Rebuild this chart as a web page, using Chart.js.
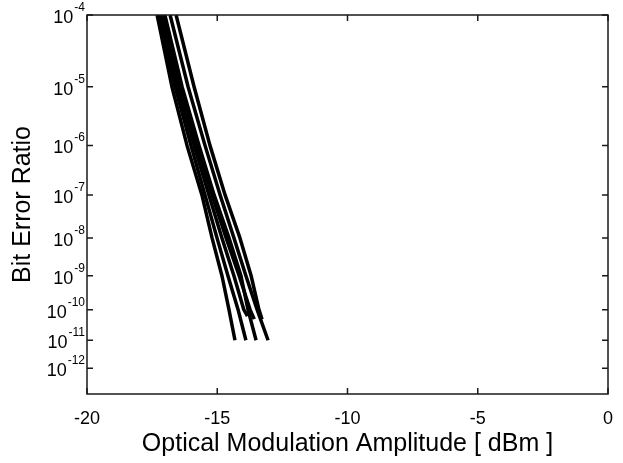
<!DOCTYPE html>
<html>
<head>
<meta charset="utf-8">
<script src="https://cdn.jsdelivr.net/npm/chart.js@4.4.1/dist/chart.umd.min.js"></script>
<style>
html, body { margin: 0; padding: 0; background: #fff; }
#wrap { width: 623px; height: 463px; }
</style>
</head>
<body>
<div id="wrap"><canvas id="berChart" width="623" height="463"></canvas></div>
<script>
// BER at each measured point (decades), short curves stop a bit above 1e-11
const berFull = [1e-4, 1e-5, 1e-6, 1e-7, 1e-8, 1e-9, 1e-10, 1e-11];
const berStopA = [1e-4, 1e-5, 1e-6, 1e-7, 1e-8, 1e-9, 1e-10, 6.3e-11];
const berStopB = [1e-4, 1e-5, 1e-6, 1e-7, 1e-8, 1e-9, 1e-10, 5.0e-11];

// optical modulation amplitude (dBm) for each lane
const omaLane1 = [-17.31, -16.74, -16.16, -15.59, -15.20, -14.82, -14.55, -14.32];
const omaLane2 = [-17.24, -16.62, -16.01, -15.47, -15.01, -14.59, -14.20, -13.90];
const omaLane3 = [-17.16, -16.51, -15.89, -15.32, -14.82, -14.36, -13.98, -13.84];
const omaLane4 = [-17.08, -16.43, -15.78, -15.20, -14.66, -14.16, -13.74, -13.58];
const omaLane5 = [-17.01, -16.35, -15.70, -15.12, -14.55, -14.09, -13.82, -13.51];
const omaLane6 = [-16.81, -16.12, -15.47, -14.89, -14.36, -13.90, -13.47, -13.05];
const omaLane7 = [-16.58, -15.89, -15.28, -14.70, -14.13, -13.70, -13.40, -13.28];

const yTickExponents = [4, 5, 6, 7, 8, 9, 10, 11, 12];
const xTicks = [-20, -15, -10, -5, 0];

const fam = '"Liberation Sans", Arial, sans-serif';

// BER axis: log10(-log10(BER))
function tf(ber) { return Math.log10(-Math.log10(ber)); }

function curve(oma, ber) {
    return {
        data: oma.map((x, i) => ({ x: x, y: tf(ber[i]) })),
        borderColor: '#000',
        borderWidth: 3.5,
        pointRadius: 0,
        showLine: true,
        fill: false,
        tension: 0,
        borderJoinStyle: 'round'
    };
}

const frameAndLabels = {
    id: 'frameAndLabels',
    afterDatasetsDraw(chart) {
        const { ctx, chartArea: a, scales: { x, y } } = chart;
        ctx.save();
        ctx.strokeStyle = '#1a1a1a';
        ctx.lineWidth = 1.5;
        ctx.strokeRect(a.left, a.top, a.right - a.left, a.bottom - a.top);
        ctx.beginPath();
        x.ticks.forEach(t => {
            const px = x.getPixelForValue(t.value);
            ctx.moveTo(px, a.bottom); ctx.lineTo(px, a.bottom - 6);
            ctx.moveTo(px, a.top); ctx.lineTo(px, a.top + 6);
        });
        y.ticks.forEach(t => {
            const py = y.getPixelForValue(t.value);
            ctx.moveTo(a.left, py); ctx.lineTo(a.left + 6, py);
            ctx.moveTo(a.right, py); ctx.lineTo(a.right - 6, py);
        });
        ctx.stroke();

        // y labels as 10 with a raised exponent
        ctx.fillStyle = '#000';
        ctx.textBaseline = 'alphabetic';
        y.ticks.forEach((t, i) => {
            const py = y.getPixelForValue(t.value);
            const exp = '-' + yTickExponents[i];
            ctx.font = '12px ' + fam;
            const we = ctx.measureText(exp).width;
            ctx.textAlign = 'left';
            ctx.fillText(exp, a.left - 2 - we, py - 4);
            ctx.font = '18px ' + fam;
            ctx.textAlign = 'right';
            ctx.fillText('10', a.left - 3 - we, py + 8);
        });
        ctx.restore();
    }
};

const ctx = document.getElementById('berChart').getContext('2d');
const berChart = new Chart(ctx, {
    type: 'scatter',
    data: {
        datasets: [
            curve(omaLane1, berFull),
            curve(omaLane2, berFull),
            curve(omaLane3, berStopA),
            curve(omaLane4, berStopB),
            curve(omaLane5, berFull),
            curve(omaLane6, berFull),
            curve(omaLane7, berStopB)
        ]
    },
    options: {
        responsive: false,
        animation: false,
        layout: { padding: { top: 15, right: 15, left: 0, bottom: 0 } },
        plugins: { legend: { display: false }, tooltip: { enabled: false } },
        scales: {
            x: {
                type: 'linear',
                min: -20,
                max: 0,
                grid: { display: false },
                border: { display: false },
                afterBuildTicks: s => { s.ticks = xTicks.map(v => ({ value: v })); },
                ticks: { padding: 6, color: '#000', maxRotation: 0, font: { family: fam, size: 18 } },
                title: {
                    display: true,
                    text: 'Optical Modulation Amplitude [ dBm ]',
                    color: '#000',
                    font: { family: fam, size: 25, lineHeight: 1 },
                    padding: { top: 0, bottom: 6 }
                },
                afterFit: s => { s.height = 69; }
            },
            y: {
                type: 'linear',
                reverse: true,
                min: tf(1e-4),
                max: tf(1e-13),
                grid: { display: false },
                border: { display: false },
                afterBuildTicks: s => { s.ticks = yTickExponents.map(e => ({ value: tf(Math.pow(10, -e)) })); },
                ticks: { display: false },
                title: {
                    display: true,
                    text: 'Bit Error Ratio',
                    color: '#000',
                    font: { family: fam, size: 25, lineHeight: 1.2 },
                    padding: { top: 8, bottom: 0 }
                },
                afterFit: s => { s.width = 87; }
            }
        }
    },
    plugins: [frameAndLabels]
});
</script>
</body>
</html>
